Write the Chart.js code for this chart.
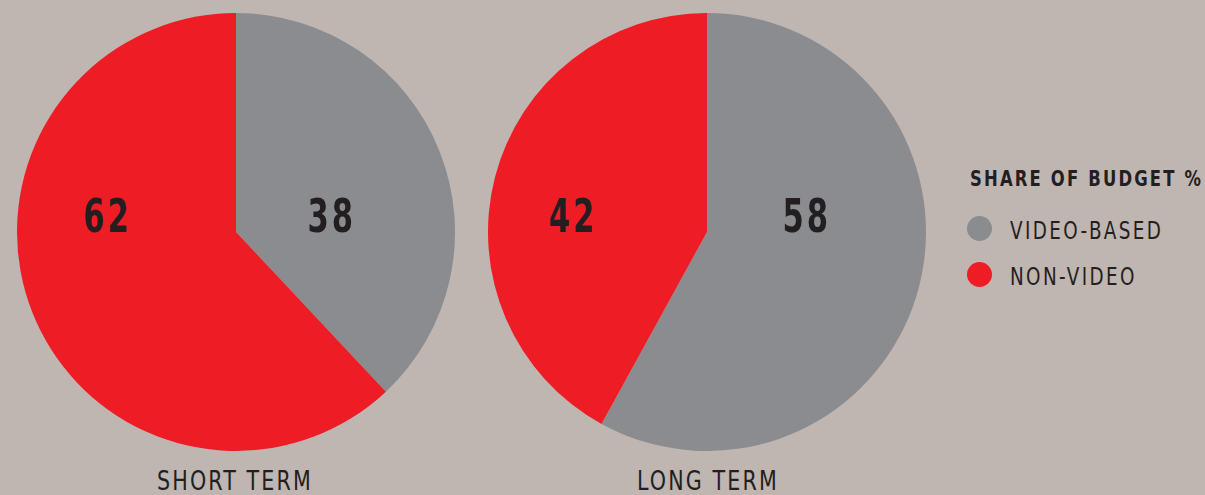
<!DOCTYPE html>
<html>
<head>
<meta charset="utf-8">
<script src="https://cdn.jsdelivr.net/npm/chart.js@4.4.0/dist/chart.umd.min.js"></script>
<style>
  html, body { margin: 0; padding: 0; }
  body { width: 1205px; height: 495px; background: #bfb5b1; position: relative; overflow: hidden;
         font-family: 'DejaVu Sans Condensed', 'DejaVu Sans', sans-serif; color: #231f20; }
  .pie { position: absolute; top: 13px; width: 438px; height: 438px; }
  .cap { position: absolute; font-size: 27px; line-height: 1; letter-spacing: 2.5px; white-space: nowrap;
         transform: translateX(-50%) scaleX(0.85); transform-origin: center; }
  .cap.left { left: 235px; } .cap.right { left: 708px; }
  .cap { top: 467px; }
  #legend { position: absolute; left: 970px; top: 0; }
  #legend .title { position: absolute; top: 168px; font-size: 22px; font-weight: bold; line-height: 1;
                   letter-spacing: 2.6px; white-space: nowrap; transform: scaleX(0.83); transform-origin: left; }
  #legend .item { position: absolute; left: 0; white-space: nowrap; }
  #legend .dot { position: absolute; left: -3px; width: 25px; height: 25px; border-radius: 50%; }
  #legend .lbl { position: absolute; left: 40px; font-size: 24px; line-height: 1; letter-spacing: 2.8px;
                 transform: scaleX(0.85); transform-origin: left; }
</style>
</head>
<body>
<div class="pie" style="left:17px"><canvas id="short"></canvas></div>
<div class="pie" style="left:488px"><canvas id="long"></canvas></div>
<div class="cap left" id="capShort"></div>
<div class="cap right" id="capLong"></div>
<div id="legend"></div>
<script>
const categories = ['VIDEO-BASED', 'NON-VIDEO'];
const shortTerm = [38, 62];
const longTerm = [58, 42];
const chartTitles = ['SHORT TERM', 'LONG TERM'];
const legendTitle = 'SHARE OF BUDGET %';
const colors = ['#8b8c90', '#ee1c25'];

document.getElementById('capShort').textContent = chartTitles[0];
document.getElementById('capLong').textContent = chartTitles[1];

// legend
const legend = document.getElementById('legend');
legend.innerHTML = '<div class="title">' + legendTitle + '</div>' +
  categories.map((c, i) => {
    const y = 216 + i * 46;
    return '<div class="item" style="top:' + y + 'px">' +
      '<div class="dot" style="top:0;background:' + colors[i] + '"></div>' +
      '<div class="lbl" style="top:3px">' + c + '</div></div>';
  }).join('');

// numbers inside slices, all on one line a bit above the centre
const sliceLabels = {
  id: 'sliceLabels',
  afterDatasetsDraw(chart) {
    const ctx = chart.ctx;
    const meta = chart.getDatasetMeta(0);
    ctx.save();
    ctx.fillStyle = '#231f20';
    ctx.font = 'bold 46px "DejaVu Sans Condensed", "DejaVu Sans", sans-serif';
    ctx.textAlign = 'center';
    ctx.textBaseline = 'alphabetic';
    ctx.letterSpacing = '4px';
    meta.data.forEach((arc, i) => {
      const mid = (arc.startAngle + arc.endAngle) / 2;
      const dx = Math.cos(mid);
      const k = dx < 0 ? 0.63 : 0.47;
      const x = arc.x + dx * arc.outerRadius * k;
      const v = chart.data.datasets[0].data[i];
      ctx.save();
      ctx.translate(x, arc.y);
      ctx.scale(0.74, 1);
      ctx.fillText(String(v), 0, 0);
      ctx.restore();
    });
    ctx.restore();
  }
};

function makePie(id, values) {
  new Chart(document.getElementById(id), {
    type: 'pie',
    data: {
      labels: categories,
      datasets: [{ data: values, backgroundColor: colors, borderWidth: 0, hoverOffset: 0 }]
    },
    options: {
      responsive: true,
      maintainAspectRatio: false,
      animation: false,
      layout: { padding: 0 },
      plugins: { legend: { display: false }, tooltip: { enabled: false } }
    },
    plugins: [sliceLabels]
  });
}

makePie('short', shortTerm);
makePie('long', longTerm);
</script>
</body>
</html>
